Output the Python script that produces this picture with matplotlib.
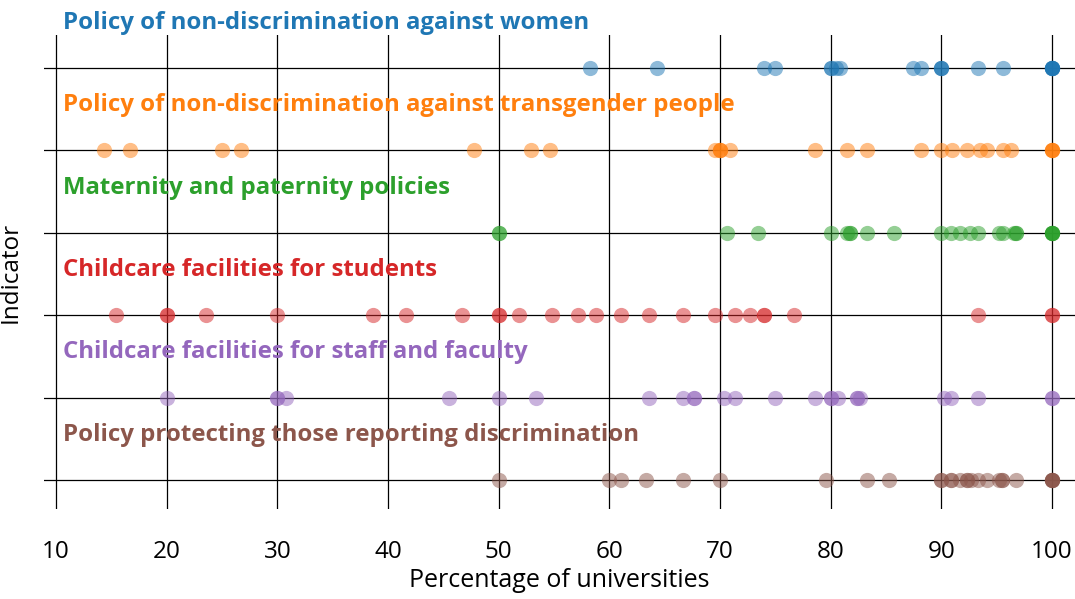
import matplotlib
matplotlib.use('Agg')
import matplotlib.pyplot as plt

indicators = [
    'Policy of non-discrimination against women',
    'Policy of non-discrimination against transgender people',
    'Maternity and paternity policies',
    'Childcare facilities for students',
    'Childcare facilities for staff and faculty',
    'Policy protecting those reporting discrimination',
]

women = [58.3, 64.3, 74.0, 75.0, 80.0, 80.0, 80.5, 80.9, 87.5, 88.2, 90.0, 90.0, 90.0,
         93.3, 95.6, 100, 100, 100, 100, 100, 100]
transgender = [14.3, 16.7, 25.0, 26.7, 47.8, 52.9, 54.6, 69.6, 70.0, 70.0, 70.0, 70.9,
               78.6, 81.5, 83.3, 88.2, 90.0, 91.0, 92.3, 93.5, 94.1, 95.6, 96.3,
               100, 100, 100, 100]
maternity = [50.0, 50.0, 70.6, 73.4, 80.0, 81.5, 81.8, 81.8, 83.3, 85.7, 90.0, 90.9, 91.7,
             92.6, 93.3, 95.2, 95.6, 96.6, 96.8, 96.8, 100, 100, 100, 100, 100]
childcare_students = [15.4, 20.0, 20.0, 23.5, 30.0, 38.6, 41.6, 46.7, 50.0, 50.0, 51.8,
                      54.8, 57.2, 58.8, 61.1, 63.6, 66.7, 69.6, 71.4, 72.7, 74.0, 74.0,
                      76.7, 93.3, 100, 100]
childcare_staff = [20.0, 30.0, 30.0, 30.8, 45.5, 50.0, 53.4, 63.6, 66.7, 67.7, 67.7, 70.4,
                   71.4, 75.0, 78.6, 80.0, 80.0, 80.7, 82.4, 82.4, 82.7, 90.3, 90.9,
                   93.3, 100, 100]
reporting = [50.0, 60.0, 61.1, 63.3, 66.7, 70.0, 79.6, 83.3, 85.3, 90.0, 90.0, 90.9, 90.9,
             91.7, 92.3, 92.3, 92.7, 93.3, 94.1, 95.2, 95.5, 95.5, 96.8,
             100, 100, 100, 100, 100]

values = [women, transgender, maternity, childcare_students, childcare_staff, reporting]
colors = ['#1f77b4', '#ff7f0e', '#2ca02c', '#d62728', '#9467bd', '#8c564b']

plt.rcParams['font.family'] = ['Open Sans', 'DejaVu Sans']

fig = plt.figure(figsize=(10.75, 5.99), dpi=100)
ax = fig.add_axes([44 / 1075, (599 - 509) / 599, 1031 / 1075, (509 - 35) / 599])

for i, (vals, c) in enumerate(zip(values, colors)):
    ax.scatter(vals, [i] * len(vals), s=120, color=c, alpha=0.5, linewidths=0, zorder=3)
    ax.text(10.6, i - 0.55, indicators[i], color=c, fontsize=17.3, fontweight='bold',
            va='center', ha='left')

ax.set_xlim(8.9, 102.1)
ax.set_ylim(5.35, -0.4)
ax.set_xticks(range(10, 101, 10))
ax.set_yticks(range(len(indicators)))
ax.set_yticklabels([])
ax.grid(True, color='black', linewidth=0.9)
ax.set_axisbelow(True)
for s in ax.spines.values():
    s.set_visible(False)
ax.tick_params(axis='x', length=0, labelsize=17.5, pad=22)
ax.tick_params(axis='y', length=0)
ax.set_xlabel('Percentage of universities', fontsize=18, labelpad=3)
ax.set_ylabel('Indicator', fontsize=17.5, labelpad=12)

fig.savefig('out.png', dpi=100)
